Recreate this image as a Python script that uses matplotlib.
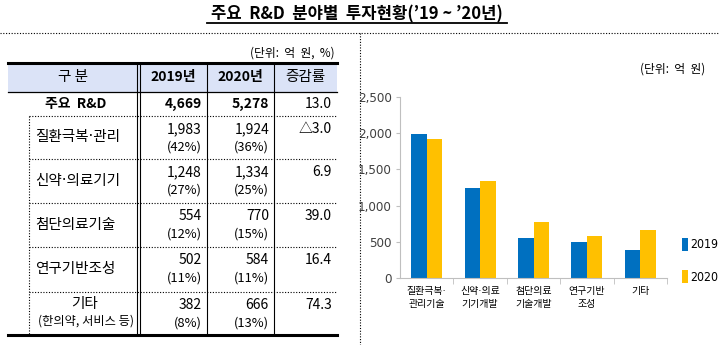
import matplotlib
matplotlib.use("Agg")
import matplotlib.pyplot as plt
from matplotlib.patches import Rectangle
from matplotlib import font_manager

# 주요 R&D 분야별 투자현황 ('19~'20) : 표 + 막대그래프

plt.rcParams['font.family'] = ['Noto Sans CJK KR', 'DejaVu Sans']

# 가운뎃점(·)은 좁은 라틴 글꼴에서, 한글은 Noto 에서 가져옴
DOT_FAMILY = ['DejaVu Sans', 'Noto Sans CJK KR']
NARROW = dict(family=['Liberation Sans Narrow', 'DejaVu Sans'], stretch='condensed')

# ============= 데이터 (억 원, %)
row_names    = ["질환극복·관리", "신약·의료기기", "첨단의료기술", "연구기반조성", "기타"]
bar_labels   = ["질환극복·\n관리기술", "신약·의료\n기기개발", "첨단의료\n기술개발", "연구기반\n조성", "기타"]
invest_2019  = [1983, 1248, 554, 502, 382]
invest_2020  = [1924, 1334, 770, 584, 666]
share_2019   = [42, 27, 12, 11, 8]
share_2020   = [36, 25, 15, 11, 13]
growth       = [-3.0, 6.9, 39.0, 16.4, 74.3]
total_growth = 13.0
years        = ["2019", "2020"]
y_ticks      = [0, 500, 1000, 1500, 2000, 2500]

total_2019 = sum(invest_2019)
total_2020 = sum(invest_2020)

BLUE   = "#0070c0"
YELLOW = "#ffc000"
HEAD   = "#dbe3f7"

W, H = 719, 345
fig = plt.figure(figsize=(W/100, H/100), dpi=100)

# 픽셀 좌표로 그리는 바탕 축 (표, 제목, 구분선)
bg = fig.add_axes([0, 0, 1, 1])
bg.set_xlim(0, W)
bg.set_ylim(H, 0)
bg.axis("off")

def fmt_growth(v):
  if v < 0:
    return "△{:.1f}".format(-v)
  return "{:.1f}".format(v)

# 제목
bg.text(357, 14, "주요  R&D  분야별  투자현황(’19 ~ ’20년)", ha="center", va="center",
        fontsize=12, fontweight="bold")
bg.plot([207, 507], [23, 23], color="black", lw=1.3)

# 점선 구분
dot = (0, (1, 1.5))
bg.plot([0, W], [33, 33], color="black", lw=0.8, linestyle=dot)
bg.plot([360, 360], [33, H], color="black", lw=0.8, linestyle=dot)

# ---- 표
x_left, x_right = 8, 337
y_top, y_head, y_main = 63, 92, 116
row_edges = [116, 159, 203, 247, 292, 335]
col_num   = [202, 269, 332]

bg.text(335, 53, "(단위:  억  원,  %)", ha="right", va="center", fontsize=8.5)

bg.add_patch(Rectangle((x_left, y_top), x_right - x_left, y_head - y_top,
                       facecolor=HEAD, edgecolor="none"))
bg.plot([x_left, x_right], [y_top, y_top], color="black", lw=2.2)
bg.plot([x_left, x_right], [y_head, y_head], color="black", lw=0.9)
bg.plot([x_left, x_right], [row_edges[-1], row_edges[-1]], color="black", lw=2.2)

for xv in [136.5, 139.5, 207, 274]:
  bg.plot([xv, xv], [y_top, row_edges[-1]], color="black", lw=0.8)

bg.plot([29, 29], [y_main, row_edges[-1]], color="black", lw=0.8, linestyle=dot)
for yv in row_edges[:-1]:
  bg.plot([29, x_right], [yv, yv], color="black", lw=0.8, linestyle=dot)

# 머리행
bg.text(73, 77.5, "구 분", ha="center", va="center", fontsize=10.5)
bg.text(173, 77.5, years[0] + "년", ha="center", va="center", fontsize=10, fontweight="bold")
bg.text(240.5, 77.5, years[1] + "년", ha="center", va="center", fontsize=10, fontweight="bold")
bg.text(305, 77.5, "증감률", ha="center", va="center", fontsize=10.5)

# 합계행
bg.text(76, 104, "주요  R&D", ha="center", va="center", fontsize=10, fontweight="bold")
bg.text(col_num[0], 104, "{:,}".format(total_2019), ha="right", va="center", fontsize=10, fontweight="bold")
bg.text(col_num[1], 104, "{:,}".format(total_2020), ha="right", va="center", fontsize=10, fontweight="bold")
bg.text(col_num[2], 104, "{:.1f}".format(total_growth), ha="right", va="center", fontsize=10)

for i, name in enumerate(row_names):
  top = row_edges[i]
  mid = (row_edges[i] + row_edges[i+1]) / 2
  if name == "기타":
    bg.text(84, top + 12, name, ha="center", va="center", fontsize=10.5)
    bg.text(86, top + 29, "(한의약, 서비스 등)", ha="center", va="center", fontsize=8.8)
  else:
    bg.text(35, mid - 1, name, ha="left", va="center", fontsize=10.5, family=DOT_FAMILY)
  bg.text(col_num[0], top + 13, "{:,}".format(invest_2019[i]), ha="right", va="center", fontsize=10)
  bg.text(col_num[1], top + 13, "{:,}".format(invest_2020[i]), ha="right", va="center", fontsize=10)
  bg.text(col_num[0], top + 31, "({}%)".format(share_2019[i]), ha="right", va="center", fontsize=9.3)
  bg.text(col_num[1], top + 31, "({}%)".format(share_2020[i]), ha="right", va="center", fontsize=9.3)
  bg.text(col_num[2], top + 13, fmt_growth(growth[i]), ha="right", va="center", fontsize=10)

# ---- 막대그래프
bg.text(705, 69, "(단위:  억  원)", ha="right", va="center", fontsize=8.5)

ax_l, ax_r, ax_b, ax_t = 400, 667, 278, 97
ax = fig.add_axes([ax_l/W, (H - ax_b)/H, (ax_r - ax_l)/W, (ax_b - ax_t)/H])

xs = list(range(len(bar_labels)))
bw = 0.29
ax.bar([x - bw/2 for x in xs], invest_2019, width=bw, color=BLUE, label=years[0])
ax.bar([x + bw/2 for x in xs], invest_2020, width=bw, color=YELLOW, label=years[1])

ax.set_xlim(-0.5, len(xs) - 0.5)
ax.set_ylim(0, 2500)
ax.set_yticks(y_ticks)
ax.set_yticklabels(["{:,}".format(v) for v in y_ticks], fontsize=9.5, color="#404040", **NARROW)
ax.set_xticks(xs)
ax.set_xticklabels(bar_labels, fontsize=7.2, linespacing=1.3, family=DOT_FAMILY)
ax.set_xticks([x + 0.5 for x in xs], minor=True)
ax.tick_params(axis="x", which="major", length=0, pad=6)
ax.tick_params(axis="x", which="minor", length=4, color="#bfbfbf", direction="out")
ax.tick_params(axis="y", length=3, color="#bfbfbf", pad=3)

for side in ["top", "right"]:
  ax.spines[side].set_visible(False)
ax.spines["left"].set_color("#bfbfbf")
ax.spines["bottom"].set_color("#bfbfbf")
ax.patch.set_alpha(0)

fig.legend(loc="upper left", bbox_to_anchor=(682/W, 1 - 238/H), frameon=False,
           prop=font_manager.FontProperties(size=8.8, **NARROW), handlelength=0.45, handleheight=1.2,
           handletextpad=0.25, labelspacing=1.55, borderpad=0, borderaxespad=0)

fig.savefig("out.png", dpi=100)
